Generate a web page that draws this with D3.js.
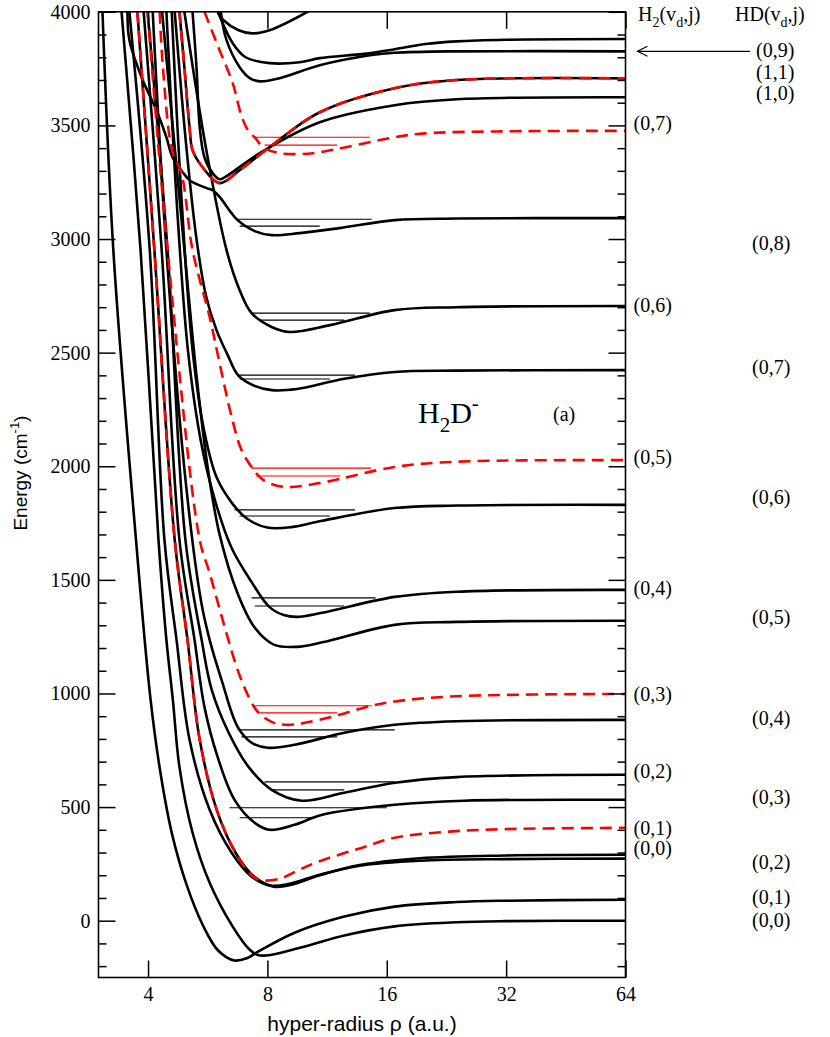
<!DOCTYPE html>
<html>
<head>
<meta charset="utf-8">
<style>
  html, body { margin: 0; padding: 0; background: #fff; }
  svg { display: block; }
  .tick text { font-family: "Liberation Serif", serif; font-size: 20px; fill: #000; }
  .tick line { stroke: #000; stroke-width: 1.5; }
  .lab { font-family: "Liberation Serif", serif; font-size: 20px; fill: #000; }
</style>
</head>
<body>
<svg width="830" height="1037"></svg>
<script src="https://d3js.org/d3.v7.min.js"></script>
<script>
// potential curves: [rho (a.u.), energy (cm-1)]
const hd00 = [[3.43,4000],[3.83,2951],[4.25,1676],[4.45,1236],[4.62,972],[4.80,677],[5.18,387],[5.72,167],[6.54,-26],[7.22,-128],[7.6,-152],[8.2,-150],[10,-112],[12.5,-65],[16.75,-25],[24,-7],[32,-2],[64,0]];
const hd01 = [[3.07,4000],[3.27,2951],[3.73,1676],[4.06,972],[4.3,650],[4.6,380],[5.0,160],[5.5,-20],[6.0,-130],[6.6,-175],[7.1,-165],[7.6,-135],[9.37,-53],[12.5,18],[16.75,62],[24,82],[32,88],[64,92]];
const hd02 = [[3.59,4000],[4.04,2951],[4.40,1676],[4.72,1236],[5.09,796],[5.72,488],[6.5,299],[7.3,194],[8.2,154],[9.1,163],[10.84,202],[13.67,242],[19.4,264],[32,271],[64,273]];
const h200 = [[3.76,4000],[4.15,2951],[4.67,1676],[5.03,1236],[5.40,796],[5.96,488],[6.65,299],[7.4,194],[8.3,150],[9.2,158],[10.84,200],[13.67,245],[19.4,275],[32,287],[64,290]];
const hd03 = [[3.90,4000],[4.33,2951],[4.80,1676],[5.24,1236],[5.55,941],[5.99,721],[6.61,532],[7.43,431],[8.10,400],[9.37,422],[11.0,466],[16.75,510],[25,528],[64,532]];
const h202 = [[3.99,4000],[4.48,2951],[4.97,1676],[5.46,1236],[5.79,1016],[6.39,827],[7.17,677],[8.20,576],[9.76,528],[12.5,563],[16.75,607],[24,632],[64,642]];
const hd04 = [[4.11,4000],[4.45,2951],[5.0,1900],[5.45,1400],[5.72,1236],[6.13,1060],[6.73,853],[7.30,783],[8.01,761],[9.37,774],[12.5,827],[16.75,862],[24,878],[64,884]];
const hd05 = [[4.34,4000],[4.94,2951],[5.3,2400],[5.65,2000],[6.06,1700],[6.73,1440],[7.43,1290],[8.3,1215],[9.5,1205],[11,1225],[16.75,1302],[24,1315],[64,1320]];
const h204 = [[4.45,4000],[4.75,3100],[5.05,2500],[5.45,2100],[5.9,1850],[6.5,1640],[7.3,1490],[8.1,1380],[8.8,1345],[9.5,1337],[11,1355],[16.75,1425],[24,1448],[64,1456]];
const hd06 = [[4.59,4000],[4.85,3200],[5.18,2511],[5.55,2150],[5.96,1950],[6.5,1840],[7.1,1770],[8.0,1730],[9.2,1732],[11,1760],[16.75,1816],[24,1827],[64,1830]];
const hd07 = [[4.67,4000],[5.0,3400],[5.3,3000],[5.6,2750],[5.95,2600],[6.35,2490],[6.75,2400],[7.4,2355],[8.2,2335],[9.5,2340],[12.5,2385],[16.75,2415],[24,2421],[64,2423]];
const h206 = [[4.94,4000],[5.6,3400],[6.31,2951],[6.81,2775],[7.30,2674],[8.2,2613],[9.1,2591],[11.5,2621],[16.75,2687],[24,2700],[64,2705]];
const hd08 = [[3.55,4000],[3.59,3875],[3.88,3699],[4.20,3567],[4.45,3448],[4.61,3360],[4.85,3303],[5.09,3259],[5.62,3224],[5.82,3215],[6.06,3185],[6.73,3083],[7.43,3035],[8.2,3017],[9.65,3026],[12.17,3048],[16.75,3083],[24,3090],[64,3092]];
const hd10 = [[5.18,4000],[5.3,3756],[5.4,3492],[5.55,3360],[5.82,3290],[6.06,3263],[6.25,3272],[7.65,3378],[10.84,3514],[16.75,3589],[24,3615],[64,3624]];
const hd11 = [[4.80,4000],[4.94,3756],[5.09,3492],[5.18,3391],[5.49,3316],[6.06,3246],[6.81,3303],[8.10,3404],[10.84,3558],[16.75,3664],[24,3700],[64,3707]];
const hd09 = [[6.1,4000],[6.31,3875],[6.81,3756],[7.22,3708],[7.65,3694],[8.59,3708],[10.84,3765],[14.66,3810],[16.75,3820],[24,3826],[64,3826]];
const hdHigh = [[6.0,4000],[6.54,3862],[7.05,3800],[8.1,3774],[9.65,3778],[10.84,3796],[14,3815],[16.75,3835],[20,3858],[24,3870],[32,3877],[64,3880]];
const hdTop = [[5.99,4000],[6.2,3963],[6.77,3919],[7.33,3905],[8.1,3919],[10.1,4000],[11,4040]];

const h201 = [[3.76,4000],[4.15,2951],[4.67,1676],[5.03,1236],[5.40,796],[5.96,488],[6.65,299],[7.3,200],[7.75,178],[8.6,185],[9.65,225],[10.84,262],[13.67,318],[16.75,365],[23,392],[32,403],[64,409]];
const h203 = [[3.99,4000],[4.48,2951],[5.40,1676],[5.72,1530],[6.20,1311],[6.77,1091],[7.30,959],[7.6,915],[8.2,875],[9.0,862],[10.84,884],[14.66,946],[16.75,965],[24,988],[64,998]];
const h205 = [[4.28,4000],[4.36,3758],[4.61,3382],[4.85,3294],[5.18,2951],[5.72,2657],[6.06,2454],[6.5,2217],[6.88,2072],[7.3,1997],[7.8,1940],[8.84,1909],[10.84,1926],[16.75,1997],[24,2020],[64,2027]];
const h207 = [[5.55,4000],[6.06,3831],[6.54,3686],[6.9,3536],[7.22,3466],[7.43,3448],[7.8,3404],[8.59,3378],[9.65,3374],[10.84,3382],[16.75,3448],[20,3465],[32,3474],[64,3476]];
const h211 = hd11;

// bound levels: [energy, rho from, rho to]
const blackLevels = [
  [3087,6.73,14.66],[3057,6.81,10.84],
  [2674,7.3,14.5],[2643,7.65,12.5],
  [2401,6.73,13.3],[2384,6.81,11.5],
  [1808,6.61,13.3],[1781,6.81,11.5],
  [1421,7.3,15.0],[1385,7.43,12.5],
  [840,6.73,16.75],[809,6.88,12.0],
  [611,7.87,16.75],[576,8.2,12.5],
  [497,6.42,16.0],[453,6.81,10.3]
];
const redLevels = [
  [3448,7.43,14.5],[3413,7.87,12.0],
  [1992,7.3,14.6],[1957,7.5,12.2],
  [946,7.4,14.66],[915,7.65,12.0]
];

const xTicks = [4, 8, 16, 32, 64];
const yTicks = d3.range(0, 4001, 500);
const yMinor = d3.range(-200, 4001, 100).filter(v => v % 500 !== 0);

const h2Labels = ["(0,7)","(0,6)","(0,5)","(0,4)","(0,3)","(0,2)","(0,1)","(0,0)"];
const h2LabelE = [3509, 2709, 2041, 1465, 998, 660, 409, 321];
const hdLabels = ["(0,9)","(1,1)","(1,0)","(0,8)","(0,7)","(0,6)","(0,5)","(0,4)","(0,3)","(0,2)","(0,1)","(0,0)"];
const hdLabelE = [3831, 3734, 3642, 2982, 2437, 1865, 1337, 893, 545, 259, 106, 4];

const blackCurves = [hd00, hd01, hd02, h200, hd03, h202, hd04, hd05, h204, hd06, hd07, h206, hd08, hd10, hd11, hd09, hdHigh, hdTop];
const redCurves = [h201, h203, h205, h207, h211];

const svg = d3.select("svg");
const L = 98.5, R = 625.5, T = 11.8, B = 977.5;

const x = d3.scaleLog().base(2).domain([3, 64]).range([L, R]);
const y = d3.scaleLinear().domain([-250, 4000]).range([B, T]);

svg.append("clipPath").attr("id", "plot")
  .append("rect").attr("x", L).attr("y", T).attr("width", R - L).attr("height", B - T);

const line = d3.line().x(d => x(d[0])).y(d => y(d[1])).curve(d3.curveCatmullRom.alpha(0.5));

const g = svg.append("g").attr("clip-path", "url(#plot)");

// levels
g.append("g").selectAll("line").data(blackLevels).join("line")
  .attr("x1", d => x(d[1])).attr("x2", d => x(d[2]))
  .attr("y1", d => y(d[0])).attr("y2", d => y(d[0]))
  .attr("stroke", "#000").attr("stroke-width", 1.2);
g.append("g").selectAll("line").data(redLevels).join("line")
  .attr("x1", d => x(d[1])).attr("x2", d => x(d[2]))
  .attr("y1", d => y(d[0])).attr("y2", d => y(d[0]))
  .attr("stroke", "#ff0000").attr("stroke-width", 1.2);

g.append("g").selectAll("path").data(blackCurves).join("path")
  .attr("d", line).attr("fill", "none")
  .attr("stroke", "#000").attr("stroke-width", 2.6);

g.append("g").selectAll("path").data(redCurves).join("path")
  .attr("d", line).attr("fill", "none")
  .attr("stroke", "#ff0000").attr("stroke-width", 2.6)
  .attr("stroke-dasharray", "12,7");

// axes
svg.append("g").attr("transform", `translate(${L},0)`)
  .call(d3.axisLeft(y).tickValues(yMinor).tickSizeInner(-8).tickSizeOuter(0).tickFormat(""))
  .call(a => a.select(".domain").remove());
svg.append("g").attr("transform", `translate(${L},0)`)
  .call(d3.axisLeft(y).tickValues(yTicks).tickSizeInner(-17).tickSizeOuter(0).tickPadding(8).tickFormat(d3.format("d")))
  .call(a => a.select(".domain").remove());
svg.append("g").attr("transform", `translate(${R},0)`)
  .call(d3.axisRight(y).tickValues(yMinor).tickSizeInner(-8).tickSizeOuter(0).tickFormat(""))
  .call(a => a.select(".domain").remove());
svg.append("g").attr("transform", `translate(${R},0)`)
  .call(d3.axisRight(y).tickValues(yTicks).tickSizeInner(-17).tickSizeOuter(0).tickFormat(""))
  .call(a => a.select(".domain").remove());
svg.append("g").attr("transform", `translate(0,${B})`)
  .call(d3.axisBottom(x).tickValues(xTicks).tickSizeInner(-17).tickSizeOuter(0).tickPadding(9).tickFormat(d3.format("d")))
  .call(a => a.select(".domain").remove());
svg.append("g").attr("transform", `translate(0,${T})`)
  .call(d3.axisTop(x).tickValues(xTicks).tickSizeInner(-17).tickSizeOuter(0).tickFormat(""))
  .call(a => a.select(".domain").remove());

svg.append("rect").attr("x", L).attr("y", T).attr("width", R - L).attr("height", B - T)
  .attr("fill", "none").attr("stroke", "#000").attr("stroke-width", 1.6);

// axis titles
svg.append("text")
  .attr("x", (L + R) / 2).attr("y", 1031)
  .attr("text-anchor", "middle")
  .style("font-family", "'Liberation Sans', sans-serif").style("font-size", "21px")
  .text("hyper-radius ρ (a.u.)");

const yl = svg.append("text")
  .attr("transform", `translate(27,${y(1970)}) rotate(-90)`)
  .attr("text-anchor", "middle")
  .style("font-family", "'Liberation Sans', sans-serif").style("font-size", "19px");
yl.append("tspan").text("Energy (cm");
yl.append("tspan").attr("dy", -8).style("font-size", "13px").text("-1");
yl.append("tspan").attr("dy", 8).text(")");

// in-plot labels
const mol = svg.append("text").attr("x", 418).attr("y", 423).attr("class", "lab").style("font-size", "30px");
mol.append("tspan").text("H");
mol.append("tspan").attr("dy", 9).style("font-size", "21px").text("2");
mol.append("tspan").attr("dy", -9).text("D");
mol.append("tspan").attr("dy", -13).style("font-size", "21px").text("-");
svg.append("text").attr("x", 553).attr("y", 421).attr("class", "lab").text("(a)");

// column headers
function header(x0, first) {
  const t = svg.append("text").attr("x", x0).attr("y", 21).attr("class", "lab");
  t.append("tspan").text(first[0]);
  if (first[1]) t.append("tspan").attr("dy", 6).style("font-size", "14px").text(first[1]);
  t.append("tspan").attr("dy", first[1] ? -6 : 0).text("(v");
  t.append("tspan").attr("dy", 6).style("font-size", "14px").text("d");
  t.append("tspan").attr("dy", -6).text(",j)");
}
header(638, ["H", "2"]);
header(735, ["HD", null]);

svg.append("g").selectAll("text").data(h2Labels).join("text")
  .attr("class", "lab")
  .attr("x", R + 8)
  .attr("y", (d, i) => y(h2LabelE[i]))
  .attr("dy", "0.35em")
  .text(d => d);

svg.append("g").selectAll("text").data(hdLabels).join("text")
  .attr("class", "lab")
  .attr("x", (d, i) => i < 3 ? 756 : 752)
  .attr("y", (d, i) => y(hdLabelE[i]))
  .attr("dy", "0.35em")
  .text(d => d);

// arrow to the HD(0,9) threshold
const ay = y(3826);
svg.append("line").attr("x1", 750).attr("x2", R + 12).attr("y1", ay).attr("y2", ay)
  .attr("stroke", "#000").attr("stroke-width", 1.2);
svg.append("path")
  .attr("d", `M${R + 22},${ay - 5} L${R + 12},${ay} L${R + 22},${ay + 5}`)
  .attr("fill", "none").attr("stroke", "#000").attr("stroke-width", 1.2);
</script>
</body>
</html>
